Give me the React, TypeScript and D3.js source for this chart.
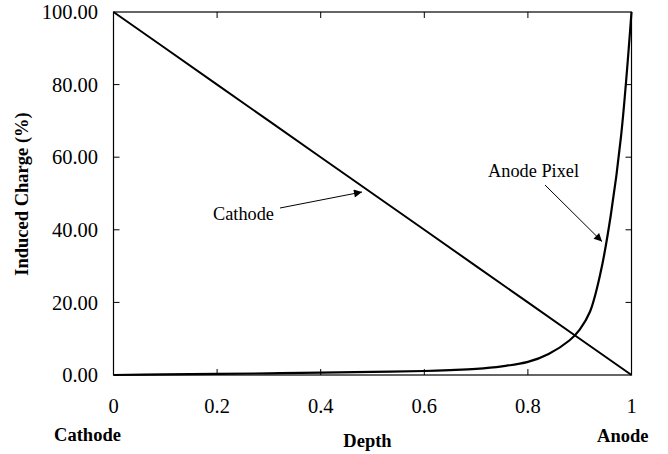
import React from "react";
import * as d3 from "d3";

const depthTicks = [0, 0.2, 0.4, 0.6, 0.8, 1];
const depthTickLabels = ["0", "0.2", "0.4", "0.6", "0.8", "1"];
const chargeTicks = [0, 20, 40, 60, 80, 100];
const chargeTickLabels = ["0.00", "20.00", "40.00", "60.00", "80.00", "100.00"];

const cathodeDepth = [0, 0.1, 0.2, 0.3, 0.4, 0.5, 0.6, 0.7, 0.8, 0.9, 1.0];
const cathodeCharge = [100, 90, 80, 70, 60, 50, 40, 30, 20, 10, 0];

const anodeDepth = [0, 0.1, 0.2, 0.3, 0.4, 0.5, 0.6, 0.65, 0.7, 0.75, 0.8, 0.84, 0.88, 0.9, 0.92, 0.94, 0.96, 0.98, 1.0];
const anodeCharge = [0, 0.15, 0.3, 0.45, 0.65, 0.85, 1.1, 1.35, 1.7, 2.4, 3.6, 5.8, 9.5, 12.5, 17.5, 28, 44, 66, 100];

const W = 668;
const H = 454;
const m = { left: 113.5, right: 631.5, top: 12, bottom: 375 };
const FONT = "'Liberation Serif', 'Times New Roman', Times, serif";

export default function App() {
  const x = d3.scaleLinear().domain([0, 1]).range([m.left, m.right]);
  const y = d3.scaleLinear().domain([0, 100]).range([m.bottom, m.top]);

  const line = d3
    .line<[number, number]>()
    .x((d) => x(d[0]))
    .y((d) => y(d[1]));
  const smooth = d3
    .line<[number, number]>()
    .x((d) => x(d[0]))
    .y((d) => y(d[1]))
    .curve(d3.curveCatmullRom.alpha(0.5));

  const cathodePts: [number, number][] = cathodeDepth.map((d, i) => [d, cathodeCharge[i]]);
  const anodePts: [number, number][] = anodeDepth.map((d, i) => [d, anodeCharge[i]]);

  const tickLen = 6;

  return (
    <svg
      width={W}
      height={H}
      style={{ position: "absolute", left: 0, top: 0, background: "#fff" }}
      fontFamily={FONT}
    >
      <defs>
        <marker
          id="arrow"
          viewBox="0 0 10 10"
          refX="10"
          refY="5"
          markerWidth="11"
          markerHeight="8"
          markerUnits="userSpaceOnUse"
          orient="auto"
        >
          <path d="M0,0 L10,5 L0,10 z" fill="#000" />
        </marker>
      </defs>

      {/* frame */}
      <rect
        x={m.left}
        y={m.top}
        width={m.right - m.left}
        height={m.bottom - m.top}
        fill="none"
        stroke="#000"
        strokeWidth={1.2}
      />

      {/* x ticks (inside, top and bottom) */}
      {depthTicks.slice(1, -1).map((t) => (
        <g key={"xt" + t}>
          <line x1={x(t)} x2={x(t)} y1={m.bottom} y2={m.bottom - tickLen} stroke="#000" strokeWidth={1} />
          <line x1={x(t)} x2={x(t)} y1={m.top} y2={m.top + tickLen} stroke="#000" strokeWidth={1} />
        </g>
      ))}
      {/* y ticks (inside, left and right) */}
      {chargeTicks.slice(1, -1).map((t) => (
        <g key={"yt" + t}>
          <line x1={m.left} x2={m.left + tickLen} y1={y(t)} y2={y(t)} stroke="#000" strokeWidth={1} />
          <line x1={m.right} x2={m.right - tickLen} y1={y(t)} y2={y(t)} stroke="#000" strokeWidth={1} />
        </g>
      ))}

      {/* tick labels */}
      {depthTicks.map((t, i) => (
        <text key={"xl" + t} x={x(t)} y={413} fontSize={20.5} textAnchor="middle" fill="#000">
          {depthTickLabels[i]}
        </text>
      ))}
      {chargeTicks.map((t, i) => (
        <text
          key={"yl" + t}
          x={98}
          y={y(t)}
          dy="0.35em"
          fontSize={20.5}
          textAnchor="end"
          fill="#000"
        >
          {chargeTickLabels[i]}
        </text>
      ))}

      {/* axis titles */}
      <text x={87.5} y={441} fontSize={18.5} fontWeight="bold" textAnchor="middle" fill="#000">
        Cathode
      </text>
      <text x={622.8} y={441.5} fontSize={18.5} fontWeight="bold" textAnchor="middle" fill="#000">
        Anode
      </text>
      <text x={367.5} y={446.5} fontSize={18.5} fontWeight="bold" textAnchor="middle" fill="#000">
        Depth
      </text>
      <text
        transform={`translate(28,194) rotate(-90)`}
        fontSize={18.5}
        fontWeight="bold"
        textAnchor="middle"
        fill="#000"
      >
        Induced Charge (%)
      </text>

      {/* data lines */}
      <path d={line(cathodePts) || ""} fill="none" stroke="#000" strokeWidth={2} />
      <path d={smooth(anodePts) || ""} fill="none" stroke="#000" strokeWidth={2.2} />

      {/* annotations */}
      <text x={243.5} y={220} fontSize={18.3} textAnchor="middle" fill="#000">
        Cathode
      </text>
      <line x1={280} y1={208} x2={362} y2={192} stroke="#000" strokeWidth={1} markerEnd="url(#arrow)" />
      <text x={579} y={177} fontSize={18.3} textAnchor="end" fill="#000">
        Anode Pixel
      </text>
      <line x1={545} y1={185} x2={602} y2={241.5} stroke="#000" strokeWidth={1} markerEnd="url(#arrow)" />
    </svg>
  );
}
